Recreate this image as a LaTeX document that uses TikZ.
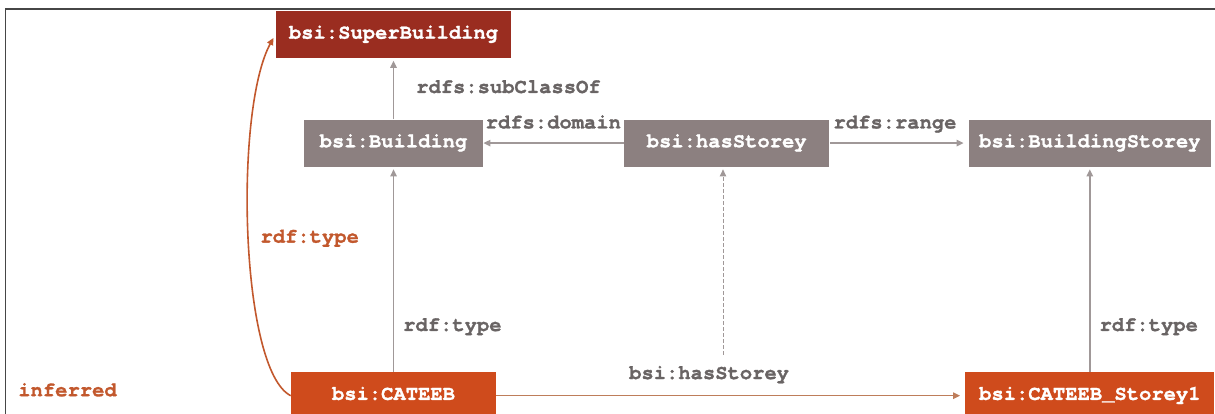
\documentclass[tikz,border=0pt]{standalone}
\usepackage{fontspec}
\setmonofont{texgyrecursor}[Extension=.otf, UprightFont=*-regular, BoldFont=*-bold, BoldFeatures={FakeBold=1.3}]
\usepackage{tikz}
\usetikzlibrary{positioning,arrows.meta}

\definecolor{superred}{RGB}{154,45,32}
\definecolor{classgray}{RGB}{140,128,128}
\definecolor{instorange}{RGB}{207,75,28}
\definecolor{lblgray}{RGB}{105,100,100}
\definecolor{arrowgray}{RGB}{160,152,152}
\definecolor{inferorange}{RGB}{194,88,45}
\definecolor{linkbrown}{RGB}{190,125,90}
\definecolor{framegray}{RGB}{70,70,70}

\begin{document}
\begin{tikzpicture}[->,>={Triangle[length=7pt,width=6.5pt]},x=1pt,y=1pt,semithick]
	\tikzstyle{every node}=[font=\fontsize{20.5}{24}\selectfont\ttfamily\bfseries]
	\tikzstyle{box}=[rectangle, inner sep=0pt, minimum height=47pt, text height=12.4pt, text depth=4pt, text=white]
	\tikzstyle{clsbox}=[box, fill=classgray]
	\tikzstyle{instbox}=[box, fill=instorange]
	\tikzstyle{lbl}=[inner sep=0pt, text height=12.4pt, text depth=4pt, text=lblgray]
	\tikzstyle{every edge}=[draw=arrowgray, line width=1.3pt, shorten >=2.5pt]
	
	\useasboundingbox (0,0) rectangle (1215,414);
	\draw[-, draw=framegray, line width=1.4pt] (1215,405) -| (5.5,0);
	
	\node[box, fill=superred, minimum width=235.7pt] (super) at (393.5,379.5) {bsi:SuperBuilding};
	\node[clsbox, minimum width=178.3pt] (building) [below=61pt of super] {bsi:Building};
	\node[clsbox, minimum width=205.5pt] (hasst) [right=140.7pt of building] {bsi:hasStorey};
	\node[clsbox, minimum width=242pt] (bstorey) [right=138.8pt of hasst] {bsi:BuildingStorey};
	\node[instbox, minimum width=205pt] (cateeb) [below=205pt of building] {bsi:CATEEB};
	\node[instbox, minimum width=249pt] (storey1) [below=205pt of bstorey] {bsi:CATEEB\_Storey1};
	\node[lbl, text=inferorange, anchor=west] (inferred) at (18,22) {inferred};
	\coordinate (dashstart) at (723,59);
	
	\path (building) edge node[lbl, right=22pt]{rdfs:subClassOf} (super);
	\path (hasst) edge[shorten >=0.5pt] node[lbl, above=10pt]{rdfs:domain} (building);
	\path (hasst) edge[shorten >=5pt] node[lbl, pos=0.47, above=10pt]{rdfs:range} (bstorey);
	\path (cateeb) edge node[lbl, pos=0.22, right=9pt]{rdf:type} (building);
	\path (storey1) edge node[lbl, pos=0.22, right=9pt]{rdf:type} (bstorey);
	\path (cateeb) edge[draw=linkbrown, shorten >=5pt] node[lbl, pos=0.454, above=12pt]{bsi:hasStorey} (storey1);
	\path (dashstart) edge[line width=0.9pt, dash pattern=on 4pt off 2pt] (dashstart |- hasst.south);
	
	\draw[draw=inferorange, line width=1.6pt, shorten >=4pt] (cateeb.west) .. controls (240,44) and (234,304) .. (super.west)
		node[lbl, text=inferorange, pos=0.49, right=11pt]{rdf:type};
	
\end{tikzpicture}
\end{document}
